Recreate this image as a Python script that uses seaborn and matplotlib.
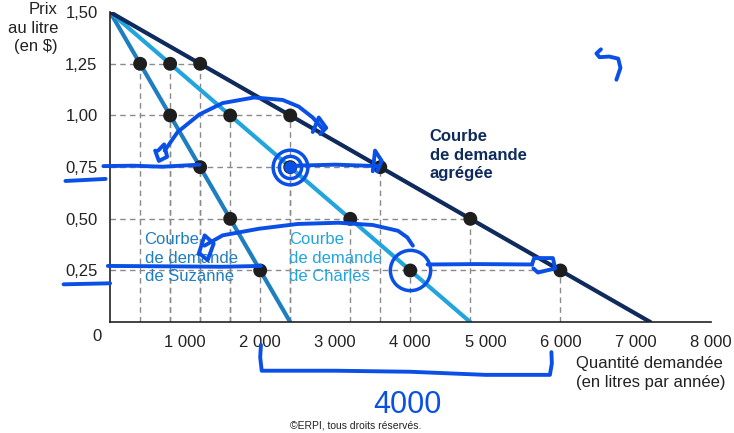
import matplotlib
matplotlib.use("Agg")
import matplotlib.pyplot as plt
import seaborn as sns
import pandas as pd

# style
sns.set_style("white")
plt.rcParams["font.family"] = ["Liberation Sans", "DejaVu Sans"]

# data
prices = [1.25, 1.00, 0.75, 0.50, 0.25]
q_suzanne = [400, 800, 1200, 1600, 2000]
q_charles = [800, 1600, 2400, 3200, 4000]
q_total = [1200, 2400, 3600, 4800, 6000]

line_prices = [1.50, 0.0]
line_suzanne = [0, 2400]
line_charles = [0, 4800]
line_total = [0, 7200]

x_ticks = [1000, 2000, 3000, 4000, 5000, 6000, 7000, 8000]
x_labels = ["1 000", "2 000", "3 000", "4 000", "5 000", "6 000", "7 000", "8 000"]
y_ticks = [0.25, 0.50, 0.75, 1.00, 1.25, 1.50]
y_labels = ["0,25", "0,50", "0,75", "1,00", "1,25", "1,50"]

c_suz = "#1f7ec0"
c_cha = "#22a4dd"
c_tot = "#0f2a5c"
c_pen = "#0a50e6"

points = pd.DataFrame({
    "q": q_suzanne + q_charles + q_total,
    "p": prices * 3,
})

fig = plt.figure(figsize=(7.34, 4.33), dpi=100)
ax = fig.add_axes([0.150, 0.256, 0.818, 0.716])

# dashed guides
ax.hlines(prices, 0, q_total, colors="#8a8a8a", linestyles=(0, (4, 3)), lw=1, zorder=1)
ax.vlines(points["q"], 0, points["p"], colors="#8a8a8a", linestyles=(0, (4, 3)), lw=1, zorder=1)

# demand curves
sns.lineplot(x=line_suzanne, y=line_prices, color=c_suz, lw=3, ax=ax, zorder=2)
sns.lineplot(x=line_charles, y=line_prices, color=c_cha, lw=3, ax=ax, zorder=2)
sns.lineplot(x=line_total, y=line_prices, color=c_tot, lw=3, ax=ax, zorder=2)

sns.scatterplot(data=points, x="q", y="p", color="#1e1e1e", s=100, edgecolor="none", ax=ax, zorder=3)

ax.set_xlim(0, 8000)
ax.set_ylim(0, 1.5)
ax.set_xticks(x_ticks)
ax.set_xticklabels(x_labels, fontsize=12)
ax.set_yticks(y_ticks)
ax.set_yticklabels(y_labels, fontsize=12)
ax.tick_params(axis="x", direction="in", length=5, width=1, pad=9, colors="#222222")
ax.tick_params(axis="y", direction="in", length=0, pad=9, colors="#222222")
ax.set_xlabel("")
ax.set_ylabel("")
for s in ["top", "right"]:
    ax.spines[s].set_visible(False)
for s in ["left", "bottom"]:
    ax.spines[s].set_color("#222222")
    ax.spines[s].set_linewidth(1.2)

ax.text(-170, -0.035, "0", fontsize=12, color="#222222", ha="center", va="top", clip_on=False)

# curve labels
ax.text(460, 0.435, "Courbe\nde demande\nde Suzanne", color=c_suz, fontsize=12,
        ha="left", va="top", linespacing=1.3)
ax.text(2390, 0.435, "Courbe\nde demande\nde Charles", color=c_cha, fontsize=12,
        ha="left", va="top", linespacing=1.3)
ax.text(4260, 0.935, "Courbe\nde demande\nagrégée", color=c_tot, fontsize=12,
        fontweight="bold", ha="left", va="top", linespacing=1.3)

# axis titles
fig.text(0.079, 0.995, "Prix\nau litre\n(en $)", fontsize=12, color="#222222",
         ha="right", va="top", linespacing=1.3)
fig.text(0.785, 0.178, "Quantité demandée\n(en litres par année)", fontsize=12,
         color="#222222", ha="left", va="top", linespacing=1.3)
fig.text(0.484, 0.018, "©ERPI, tous droits réservés.", fontsize=7.5, color="#222222",
         ha="center", va="center")

# hand-drawn annotations
pen = dict(color=c_pen, lw=2.8, solid_capstyle="round", clip_on=False, zorder=5)
ax.plot([-90, 300, 700, 1190], [0.755, 0.757, 0.752, 0.762], **pen)
ax.plot([-595, -60], [0.683, 0.693], **pen)
ax.plot([-30, 800, 1500, 2010], [0.272, 0.270, 0.268, 0.272], **pen)
ax.plot([-620, 0], [0.183, 0.188], **pen)
ax.plot([727, 900, 1190, 1500, 1918, 2300, 2513, 2700, 2844],
        [0.83, 0.92, 1.005, 1.06, 1.087, 1.075, 1.043, 0.99, 0.93], **pen)
ax.plot([600, 650, 760, 720, 640], [0.83, 0.78, 0.80, 0.86, 0.83], **pen)
ax.plot([2400], [0.75], "o", mfc="none", mec=c_pen, ms=25, mew=2.5, clip_on=False, zorder=5)
ax.plot([2400], [0.75], "o", mfc="none", mec=c_pen, ms=16, mew=2.5, clip_on=False, zorder=5)
ax.plot([2400], [0.75], "o", color=c_pen, ms=8, zorder=5)
ax.plot([2450, 3000, 3570], [0.757, 0.762, 0.755], **pen)
ax.plot([3500, 3530, 3620, 3560], [0.73, 0.83, 0.78, 0.73], **pen)
ax.plot([2700, 2780, 2880, 2800], [0.92, 0.99, 0.94, 0.91], **pen)
ax.plot([1257, 1500, 1984, 2500, 3042, 3500, 3836, 3960, 4034],
        [0.37, 0.42, 0.452, 0.475, 0.481, 0.47, 0.442, 0.41, 0.37], **pen)
ax.plot([1180, 1260, 1380, 1300, 1200], [0.33, 0.42, 0.38, 0.30, 0.33], **pen)
ax.plot([4000], [0.25], "o", mfc="none", mec=c_pen, ms=29, mew=2.5, clip_on=False, zorder=5)
ax.plot([4230, 4900, 5622], [0.279, 0.281, 0.279], **pen)
ax.plot([5622, 5650, 5900, 5930, 5700, 5640], [0.279, 0.31, 0.31, 0.26, 0.24, 0.26], **pen)
ax.plot([2010, 2000, 2020, 3000, 4000, 5000, 5860, 5886, 5880],
        [-0.11, -0.17, -0.235, -0.235, -0.24, -0.255, -0.255, -0.2, -0.145], **pen)
ax.text(3968, -0.40, "4000", color=c_pen, fontsize=22, ha="center", va="center",
        clip_on=False, zorder=5)
ax.plot([6746, 6800, 6770, 6650, 6520, 6480, 6540],
        [1.173, 1.23, 1.275, 1.285, 1.282, 1.30, 1.32], **pen)

plt.savefig("out.png", dpi=100)
plt.close()
